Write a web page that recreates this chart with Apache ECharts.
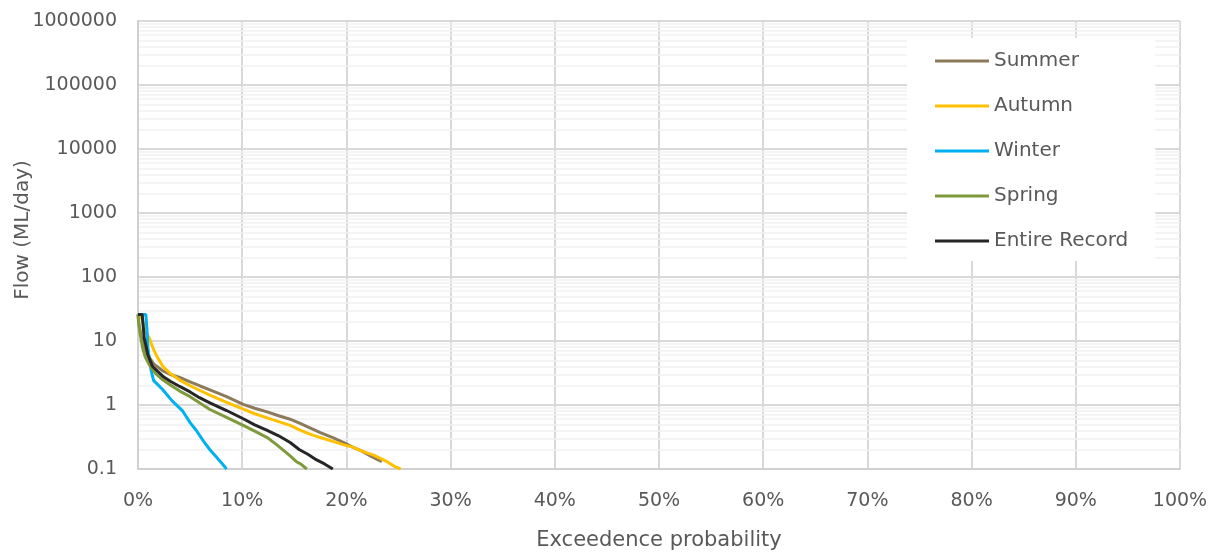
<!DOCTYPE html>
<html>
<head>
<meta charset="utf-8">
<script src="https://cdn.jsdelivr.net/npm/echarts@6/dist/echarts.min.js"></script>
<style>
html,body{margin:0;padding:0;background:#fff;}
#chart{width:1217px;height:553px;}
</style>
</head>
<body>
<div id="chart"></div>
<script>
// Exceedence probability (%) , Flow (ML/day)
const seriesNames = ['Summer', 'Autumn', 'Winter', 'Spring', 'Entire Record'];
const summer = [[0,26],[0.1,18],[0.3,12],[0.6,8],[1.0,5.8],[1.5,4.4],[2.4,3.4],[3.1,3.0],[4.0,2.7],[5.0,2.3],[5.9,2.0],[6.9,1.72],[8.5,1.35],[10.1,1.02],[11.2,0.89],[12.4,0.78],[13.5,0.68],[14.6,0.6],[15.5,0.52],[16.5,0.44],[17.5,0.37],[18.7,0.31],[19.7,0.26],[20.6,0.22],[21.5,0.19],[22.3,0.16],[23.0,0.14],[23.4,0.13]];
const autumn = [[0,26],[0.3,24],[0.6,17],[0.85,13],[1.1,11],[1.4,8],[1.75,6],[2.4,4.0],[3.1,3.1],[4.0,2.45],[5.0,2.0],[5.9,1.7],[6.9,1.43],[8.5,1.1],[10.1,0.86],[11.2,0.73],[12.4,0.63],[13.5,0.55],[14.6,0.48],[15.5,0.41],[16.5,0.35],[17.5,0.31],[18.7,0.27],[19.7,0.24],[20.6,0.22],[21.5,0.19],[22.6,0.165],[23.9,0.13],[24.6,0.11],[25.2,0.1]];
const winter = [[0,26],[0.75,26],[0.85,16],[0.95,8],[1.1,5],[1.27,3.4],[1.5,2.4],[2.07,1.95],[2.4,1.72],[3.3,1.15],[4.3,0.8],[5.0,0.53],[5.6,0.4],[6.3,0.27],[6.9,0.2],[7.5,0.155],[8.0,0.125],[8.5,0.1]];
const spring = [[0,26],[0.05,20],[0.2,13],[0.45,7.7],[0.7,5.6],[1.1,4.2],[1.7,3.1],[2.4,2.45],[3.1,2.05],[4.0,1.65],[5.0,1.35],[5.9,1.08],[6.9,0.85],[8.5,0.64],[10.1,0.48],[11.2,0.39],[12.4,0.31],[13.3,0.24],[14.6,0.16],[15.2,0.13],[15.6,0.12],[16.2,0.1]];
const entire = [[0,26],[0.4,26],[0.5,17],[0.6,11],[0.8,8],[0.95,6],[1.4,4],[2.4,2.8],[3.1,2.35],[4.0,1.95],[5.0,1.6],[5.9,1.3],[6.9,1.08],[8.5,0.82],[10.1,0.61],[11.2,0.49],[12.4,0.4],[13.5,0.33],[14.6,0.26],[15.5,0.2],[16.3,0.17],[17.1,0.14],[17.9,0.12],[18.7,0.1]];
const colors = ['#8C7A5B', '#FFC000', '#00B0F0', '#7F9A3A', '#262626'];
const xTicks = [0,10,20,30,40,50,60,70,80,90,100];
const yDecades = [0.1,1,10,100,1000,10000,100000,1000000];

const minorValues = [];
for (let d = 0; d < yDecades.length - 1; d++) {
  for (let m = 2; m <= 9; m++) minorValues.push(Number((yDecades[d] * m).toPrecision(6)));
}

const font = 'DejaVu Sans';
const dataSets = [summer, autumn, winter, spring, entire];

const chart = echarts.init(document.getElementById('chart'), null, {renderer: 'canvas'});
const series = [{
  name: '_minor',
  type: 'line',
  data: [],
  silent: true,
  z: 0,
  markLine: {
    silent: true,
    symbol: ['none', 'none'],
    label: {show: false},
    z: 0,
    lineStyle: {color: '#f0f0f0', width: 1.5, type: 'solid'},
    data: minorValues.map(v => ({yAxis: v}))
  }
}];
dataSets.forEach((d, i) => {
  series.push({
    name: seriesNames[i],
    type: 'line',
    data: d,
    showSymbol: false,
    symbol: 'none',
    lineStyle: {color: colors[i], width: 3},
    itemStyle: {color: colors[i]},
    z: 3 + i
  });
});

chart.setOption({
  animation: false,
  backgroundColor: '#ffffff',
  grid: {left: 138, right: 37, top: 21, bottom: 84, containLabel: false, outerBoundsMode: 'none'},
  legend: {
    data: seriesNames,
    orient: 'vertical',
    left: 907,
    top: 38,
    backgroundColor: '#ffffff',
    padding: [13, 27, 10, 28],
    itemGap: 25,
    itemWidth: 54,
    itemHeight: 3,
    icon: 'rect',
    textStyle: {fontFamily: font, fontSize: 20, color: '#595959', lineHeight: 20}
  },
  xAxis: {
    type: 'value',
    min: 0, max: 100, interval: 10,
    name: 'Exceedence probability',
    nameLocation: 'middle',
    nameGap: 61,
    nameMoveOverlap: false,
    nameTextStyle: {fontFamily: font, fontSize: 21, color: '#595959'},
    axisLine: {show: true, lineStyle: {color: '#d0d0d0', width: 2}},
    axisTick: {show: false},
    axisLabel: {fontFamily: font, fontSize: 19, color: '#595959', margin: 23, formatter: v => v + '%'},
    splitLine: {show: true, lineStyle: {color: '#d9d9d9', width: 2}}
  },
  yAxis: {
    type: 'log',
    logBase: 10,
    min: 0.1, max: 1000000,
    name: 'Flow (ML/day)',
    nameLocation: 'middle',
    nameGap: 105,
    nameMoveOverlap: false,
    nameTextStyle: {fontFamily: font, fontSize: 20, color: '#595959', padding: [0, 0, 0, 30]},
    axisLine: {show: true, lineStyle: {color: '#d0d0d0', width: 2}},
    axisTick: {show: false},
    axisLabel: {fontFamily: font, fontSize: 19, color: '#595959', margin: 21,
      formatter: v => String(Number(v.toPrecision(6)))},
    splitLine: {show: true, lineStyle: {color: '#d9d9d9', width: 2}}
  },
  series: series
});
</script>
</body>
</html>
